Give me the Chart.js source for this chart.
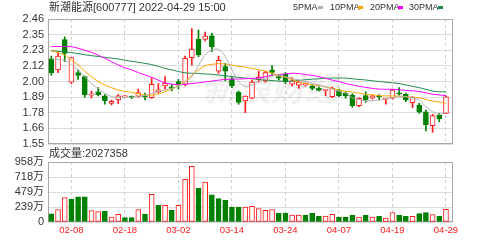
<!DOCTYPE html>
<html><head><meta charset="utf-8">
<script src="https://cdn.jsdelivr.net/npm/chart.js@4"></script>
<style>
html,body{margin:0;padding:0;background:#fff;}
body{width:502px;height:240px;overflow:hidden;position:relative;font-family:'Liberation Sans','Noto Sans CJK SC',sans-serif;}
canvas{position:absolute;left:0;}
#c1{top:0;}
#c2{top:150px;}
.t{position:absolute;white-space:nowrap;color:#333;line-height:1;}
.sw{position:absolute;width:5px;height:3px;}
</style></head><body>
<canvas id="c1" width="502" height="155" style="width:502px;height:155px"></canvas>
<canvas id="c2" width="502" height="90" style="width:502px;height:90px"></canvas>
<div class="t" style="left:49px;top:2px;font-size:11px;">新潮能源[600777] 2022-04-29 15:00</div>
<div class="t" style="left:293px;top:3px;font-size:9px;">5PMA</div><div class="sw" style="left:318px;top:6px;background:#b0b0b0"></div>
<div class="t" style="left:330px;top:3px;font-size:9px;">10PMA</div><div class="sw" style="left:358px;top:6px;background:#ffa500"></div>
<div class="t" style="left:370px;top:3px;font-size:9px;">20PMA</div><div class="sw" style="left:398px;top:6px;background:#ff00ff"></div>
<div class="t" style="left:409px;top:3px;font-size:9px;">30PMA</div><div class="sw" style="left:438px;top:6px;background:#1f8a4c"></div>
<div class="t" style="left:49px;top:148px;font-size:11px;">成交量:2027358</div>
<script>
const dates=['01-27','01-28','02-07','02-08','02-09','02-10','02-11','02-14','02-15','02-16','02-17','02-18','02-21','02-22','02-23','02-24','02-25','02-28','03-01','03-02','03-03','03-04','03-07','03-08','03-09','03-10','03-11','03-14','03-15','03-16','03-17','03-18','03-21','03-22','03-23','03-24','03-25','03-28','03-29','03-30','03-31','04-01','04-06','04-07','04-08','04-11','04-12','04-13','04-14','04-15','04-18','04-19','04-20','04-21','04-22','04-25','04-26','04-27','04-28','04-29'];
const open=[2.17,2.09,2.31,2.00,2.07,2.04,1.905,1.93,1.90,1.845,1.87,1.893,1.897,1.897,1.90,1.887,1.93,1.972,1.967,2.004,1.985,2.178,2.314,2.312,2.338,2.08,2.113,2.025,1.926,1.863,1.883,2.02,2.01,2.089,2.04,2.06,1.985,1.978,1.98,1.972,1.955,1.94,1.894,1.943,1.918,1.907,1.829,1.902,1.883,1.90,1.874,1.883,1.923,1.912,1.85,1.834,1.785,1.683,1.761,1.773];
const high=[2.19,2.22,2.33,2.18,2.09,2.045,1.935,1.96,1.91,1.87,1.91,1.905,1.90,1.95,1.92,2.03,1.99,2.04,1.985,2.02,2.19,2.39,2.38,2.365,2.356,2.19,2.137,2.035,1.936,1.90,2.016,2.08,2.08,2.12,2.057,2.07,2.033,2.016,1.995,1.98,1.967,1.947,1.967,1.95,1.93,1.916,1.887,1.93,1.907,1.91,1.883,1.95,1.96,1.92,1.894,1.846,1.797,1.766,1.773,1.90];
const low=[2.05,2.07,2.15,1.99,2.02,1.89,1.885,1.90,1.84,1.835,1.845,1.89,1.88,1.89,1.87,1.882,1.92,1.95,1.936,1.95,1.972,2.125,2.186,2.30,2.222,2.065,2.01,1.96,1.839,1.778,1.88,2.0,2.0,2.052,2.016,1.99,1.972,1.955,1.97,1.943,1.936,1.90,1.887,1.894,1.883,1.817,1.822,1.853,1.878,1.87,1.84,1.877,1.905,1.858,1.814,1.773,1.645,1.635,1.712,1.77];
const close=[2.07,2.19,2.21,2.18,2.05,1.91,1.915,1.91,1.865,1.86,1.90,1.90,1.89,1.925,1.893,1.985,1.944,1.992,1.955,1.978,2.174,2.239,2.198,2.336,2.258,2.16,2.081,1.975,1.853,1.899,2.0,2.035,2.07,2.072,2.03,2.004,2.01,2.0,1.992,1.955,1.94,1.946,1.955,1.902,1.90,1.829,1.883,1.87,1.90,1.894,1.882,1.943,1.912,1.87,1.89,1.781,1.688,1.756,1.732,1.894];
const ma5=[2.17,2.165,2.16,2.125,2.09,2.04,1.99,1.955,1.92,1.895,1.888,1.887,1.89,1.897,1.905,1.92,1.932,1.943,1.955,1.97,2.0,2.04,2.12,2.20,2.234,2.24,2.186,2.089,2.004,1.967,1.98,2.005,2.028,2.045,2.052,2.04,2.028,2.015,2.004,1.99,1.98,1.965,1.95,1.935,1.92,1.887,1.875,1.863,1.866,1.87,1.88,1.887,1.892,1.894,1.885,1.87,1.82,1.785,1.766,1.781];
const ma10=[2.227,2.215,2.198,2.16,2.125,2.08,2.04,2.005,1.98,1.96,1.943,1.933,1.926,1.915,1.907,1.905,1.915,1.93,1.95,1.975,2.004,2.05,2.09,2.12,2.13,2.135,2.132,2.125,2.115,2.11,2.10,2.09,2.08,2.065,2.05,2.035,2.02,2.00,1.99,1.98,1.975,1.967,1.955,1.943,1.935,1.928,1.92,1.912,1.907,1.902,1.90,1.90,1.898,1.895,1.89,1.887,1.875,1.863,1.855,1.846];
const ma20=[2.26,2.26,2.26,2.258,2.247,2.232,2.218,2.196,2.174,2.15,2.125,2.105,2.089,2.07,2.052,2.035,2.015,1.995,1.985,1.983,1.983,1.99,1.995,2.002,2.008,2.015,2.02,2.022,2.023,2.025,2.028,2.03,2.04,2.05,2.055,2.06,2.065,2.063,2.055,2.05,2.04,2.028,2.015,2.004,1.99,1.98,1.97,1.962,1.955,1.95,1.948,1.948,1.945,1.94,1.937,1.932,1.922,1.912,1.907,1.902];
const ma30=[2.23,2.225,2.22,2.215,2.208,2.20,2.193,2.187,2.181,2.175,2.169,2.16,2.152,2.145,2.137,2.128,2.115,2.10,2.09,2.078,2.068,2.065,2.063,2.06,2.057,2.052,2.047,2.04,2.035,2.03,2.025,2.02,2.016,2.012,2.008,2.006,2.008,2.012,2.018,2.022,2.025,2.028,2.03,2.03,2.03,2.025,2.02,2.016,2.01,2.005,2.0,1.995,1.99,1.98,1.97,1.96,1.948,1.935,1.93,1.93];
const volWan=[130,198,390,362,402,402,182,166,171,80,123,70,70,198,128,442,267,267,187,267,680,890,543,639,434,373,346,240,240,240,250,213,187,198,144,144,112,112,112,139,96,96,123,80,80,107,80,107,80,91,64,150,107,91,91,134,150,118,91,202.7358];
const volUp=[0,1,1,0,0,0,1,1,0,1,1,0,0,1,0,1,0,1,0,1,1,1,0,1,0,0,0,0,0,1,1,1,1,1,0,0,1,1,0,0,0,1,1,0,0,0,1,0,1,0,1,1,0,0,1,0,0,1,0,1];
const priceTickLabels=['1.55','1.66','1.78','1.89','2.00','2.12','2.23','2.35','2.46'];
const volTickLabels=['0','239万','479万','718万','958万'];
const dateTickIdx=[3,11,19,27,35,43,51,59];
const PMIN=1.55, PMAX=2.46, VMAX=958;

const RED='#ff1a1a', GREEN='#008000';
Chart.defaults.font.family="'Liberation Sans','Noto Sans CJK SC',sans-serif";
Chart.defaults.animation=false;
const idx=dates.map((_,i)=>i);
const up=idx.map(i=>close[i]>=open[i]);

const frame={id:'frame',beforeDatasetsDraw(c,a,o){
  const ctx=c.ctx, ca=c.chartArea; ctx.save();
  if(o.wm){ctx.font='italic bold 34px "Noto Sans CJK SC"';ctx.fillStyle='rgba(0,0,0,0.055)';ctx.textAlign='center';ctx.textBaseline='middle';
    ctx.fillText(o.wm, ca.left+ca.width*0.55, ca.top+ca.height*0.55);}
  ctx.strokeStyle='#a8a8a8';ctx.lineWidth=1;
  ctx.strokeRect(Math.round(ca.left)+0.5,Math.round(ca.top)+0.5,Math.round(ca.width)-1,Math.round(ca.height)-1);
  ctx.restore();}};

function xAxis(show){return {type:'linear',min:-0.5,max:60.05,offset:false,
  afterBuildTicks:s=>{s.ticks=dateTickIdx.map(v=>({value:v}));},
  afterFit:s=>{s.height=show?18:0;},
  grid:{color:'#cfcfcf',drawTicks:false,lineWidth:1,offset:false},
  border:{display:false,dash:[3,3]},
  ticks:{display:show,autoSkip:false,maxRotation:0,color:RED,font:{size:9.5},padding:3,callback:v=>dates[v]}};}

const lineDs=(d,col)=>({type:'line',data:idx.map(i=>({x:i,y:d[i]})),borderColor:col,borderWidth:1,pointRadius:0,tension:0.3,order:0});

new Chart(document.getElementById('c1'),{
  type:'bar',
  data:{datasets:[
    lineDs(ma5,'#b0b0b0'),lineDs(ma10,'#ffa500'),lineDs(ma20,'#ff00ff'),lineDs(ma30,'#1f8a4c'),
    {type:'bar',data:idx.map(i=>({x:i,y:[open[i],close[i]]})),grouped:false,barThickness:5,minBarLength:1,
     backgroundColor:idx.map(i=>up[i]?'#ffffff':GREEN),borderColor:idx.map(i=>up[i]?RED:GREEN),borderWidth:1,borderSkipped:false,order:1},
    {type:'bar',data:idx.map(i=>({x:i,y:[low[i],high[i]]})),grouped:false,barThickness:1,
     backgroundColor:idx.map(i=>up[i]?RED:GREEN),borderWidth:0,order:2}
  ]},
  options:{responsive:false,events:[],layout:{padding:{left:0,right:49,top:19,bottom:11}},
    plugins:{legend:{display:false},tooltip:{enabled:false},frame:{wm:'新浪财经'}},
    scales:{x:xAxis(false),
      y:{min:PMIN,max:PMAX,afterFit:s=>{s.width=48;},
        afterBuildTicks:s=>{s.ticks=priceTickLabels.map((_,k)=>({value:PMIN+k*(PMAX-PMIN)/8}));},
        grid:{color:'#dcdcdc',drawTicks:false},border:{display:false},
        ticks:{color:'#333',font:{size:11},padding:4,autoSkip:false,callback:(v,i)=>priceTickLabels[i]}}}},
  plugins:[frame]});

new Chart(document.getElementById('c2'),{
  type:'bar',
  data:{datasets:[{data:idx.map(i=>({x:i,y:volWan[i]})),barThickness:5,grouped:false,
    backgroundColor:idx.map(i=>volUp[i]?'#ffffff':GREEN),borderColor:idx.map(i=>volUp[i]?RED:GREEN),borderWidth:1,borderSkipped:false}]},
  options:{responsive:false,events:[],layout:{padding:{left:0,right:49,top:12,bottom:0}},
    plugins:{legend:{display:false},tooltip:{enabled:false},frame:{}},
    scales:{x:xAxis(true),
      y:{min:0,max:VMAX,afterFit:s=>{s.width=48;},
        afterBuildTicks:s=>{s.ticks=volTickLabels.map((_,k)=>({value:k*VMAX/4}));},
        grid:{color:'#dcdcdc',drawTicks:false},border:{display:false},
        ticks:{color:'#333',font:{size:11},padding:4,autoSkip:false,callback:(v,i)=>volTickLabels[i]}}}},
  plugins:[frame]});
</script>
</body></html>
